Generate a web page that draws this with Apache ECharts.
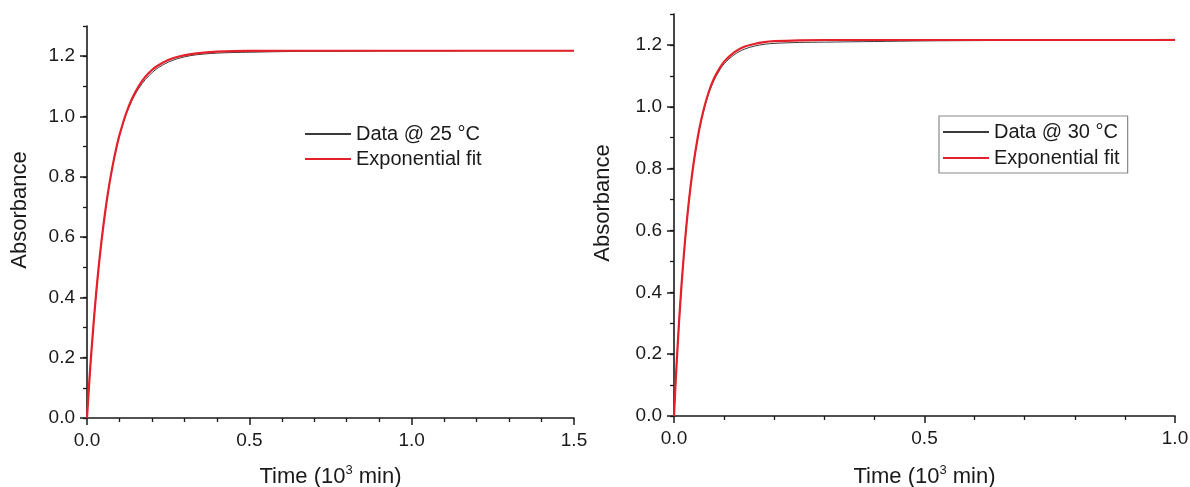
<!DOCTYPE html>
<html><head><meta charset="utf-8">
<script src="https://cdn.jsdelivr.net/npm/echarts@6/dist/echarts.min.js"></script>
<style>html,body{margin:0;padding:0;background:#fff}#c{width:1190px;height:487px}</style>
</head><body><div id="c"></div>
<script>
// ---- Data (time in 10^3 min, absorbance) ----
const time25 = [0,0.005,0.01,0.02,0.03,0.04,0.05,0.06,0.07,0.08,0.09,0.10,0.12,0.14,0.16,0.18,0.20,0.22,0.25,0.28,0.32,0.36,0.40,0.45,0.50,0.60,0.70,0.80,0.90,1.00,1.10,1.20,1.30,1.40,1.50];
const data25 = [0,0.086,0.167,0.310,0.435,0.542,0.634,0.714,0.783,0.842,0.893,0.936,1.005,1.056,1.094,1.123,1.145,1.162,1.180,1.192,1.202,1.207,1.210,1.212,1.213,1.215,1.216,1.216,1.217,1.217,1.217,1.218,1.218,1.218,1.218];
const fit25  = [0,0.086,0.167,0.310,0.435,0.542,0.634,0.714,0.783,0.842,0.894,0.938,1.009,1.062,1.102,1.132,1.154,1.170,1.187,1.198,1.207,1.212,1.215,1.217,1.2175,1.218,1.218,1.218,1.218,1.218,1.218,1.218,1.218,1.218,1.218];

const time30 = [0,0.0025,0.005,0.01,0.015,0.02,0.025,0.03,0.035,0.04,0.05,0.06,0.07,0.08,0.09,0.10,0.12,0.14,0.16,0.18,0.20,0.25,0.30,0.40,0.50,0.60,0.70,0.80,0.90,1.00];
const data30 = [0,0.084,0.162,0.302,0.423,0.528,0.620,0.699,0.767,0.826,0.922,0.992,1.046,1.086,1.115,1.139,1.168,1.186,1.196,1.202,1.205,1.208,1.209,1.211,1.213,1.214,1.215,1.216,1.217,1.218];
const fit30  = [0,0.084,0.162,0.302,0.423,0.528,0.620,0.699,0.767,0.827,0.924,0.996,1.051,1.092,1.122,1.146,1.176,1.194,1.203,1.209,1.212,1.215,1.216,1.216,1.216,1.216,1.216,1.216,1.216,1.216];

const seriesNames25 = ['Data @ 25 °C', 'Exponential fit'];
const seriesNames30 = ['Data @ 30 °C', 'Exponential fit'];
const xMax25 = 1.5, xMax30 = 1.0, yMax = 1.3;
const xTitle = 'Time (10{sup|3} min)';
const yTitle = 'Absorbance';

const FONT = "'Liberation Sans', Arial, sans-serif";
const INK = '#1a1a1a';
const RED = '#e4202b';
const GRAY = '#3a3a3a';

const chart = echarts.init(document.getElementById('c'), null, {renderer: 'canvas'});

function xAxisCfg(gi, max, gap) {
  return {
    type: 'value', gridIndex: gi, min: 0, max: max, interval: 0.5,
    name: xTitle, nameLocation: 'middle', nameGap: gap,
    nameTextStyle: {fontFamily: FONT, fontSize: 22, color: INK,
      rich: {sup: {fontFamily: FONT, fontSize: 13, color: INK, padding: [0, 0, 12, 0]}}},
    axisLine: {show: true, lineStyle: {color: INK, width: 1.6}},
    axisTick: {show: true, inside: false, length: 7, lineStyle: {color: INK, width: 1.5}},
    minorTick: {show: true, splitNumber: 5, length: 4, lineStyle: {color: INK, width: 1.3}},
    axisLabel: {fontFamily: FONT, fontSize: 19, color: INK, margin: 13,
      formatter: v => v.toFixed(1)},
    splitLine: {show: false}, minorSplitLine: {show: false}
  };
}
function yMainCfg(gi, gap) {
  return {
    type: 'value', gridIndex: gi, min: 0, max: yMax, interval: 0.2,
    name: yTitle, nameLocation: 'middle', nameGap: gap,
    nameTextStyle: {fontFamily: FONT, fontSize: 22, color: INK, padding: [0, 0, 0, 24]},
    axisLine: {show: true, lineStyle: {color: INK, width: 1.6}},
    axisTick: {show: true, inside: false, length: 7, lineStyle: {color: INK, width: 1.5}},
    axisLabel: {fontFamily: FONT, fontSize: 19, color: INK, margin: 12, showMaxLabel: false,
      formatter: v => v.toFixed(1)},
    splitLine: {show: false}
  };
}
function yMinorCfg(gi) {
  return {
    type: 'value', gridIndex: gi, min: 0, max: yMax, interval: 0.1, position: 'left',
    axisLine: {show: false},
    axisTick: {show: true, inside: false, length: 4, lineStyle: {color: INK, width: 1.3}},
    axisLabel: {show: false}, splitLine: {show: false}
  };
}
function pairs(t, v) { return t.map((x, i) => [x, v[i]]); }

const legendCommon = {
  orient: 'vertical', itemWidth: 46, itemHeight: 14,
  itemStyle: {opacity: 0, borderWidth: 0, color: 'rgba(0,0,0,0)'},
  textStyle: {fontFamily: FONT, fontSize: 20, color: INK, lineHeight: 20}
};

const option = {
  backgroundColor: '#fff',
  animation: false,
  grid: [
    {left: 87, right: 616, top: 26, bottom: 69, outerBoundsMode: 'none', containLabel: false},
    {left: 674, right: 15, top: 14, bottom: 71, outerBoundsMode: 'none', containLabel: false}
  ],
  xAxis: [xAxisCfg(0, xMax25, 46), xAxisCfg(1, xMax30, 48)],
  yAxis: [yMainCfg(0, 56), yMinorCfg(0), yMainCfg(1, 60), yMinorCfg(1)],
  legend: [
    Object.assign({}, legendCommon, {data: seriesNames25, left: 300, top: 121,
      itemGap: 5, padding: [3, 3, 3, 4]}),
    Object.assign({}, legendCommon, {data: seriesNames30, left: 939, top: 116,
      itemGap: 6, padding: [6, 8, 5, 3], borderColor: '#8a8a8a', borderWidth: 1.2})
  ],
  series: [
    {name: seriesNames25[0], type: 'line', xAxisIndex: 0, yAxisIndex: 0,
     data: pairs(time25, data25), symbol: 'none', smooth: 0.3,
     lineStyle: {color: GRAY, width: 1}, itemStyle: {color: GRAY}, z: 2},
    {name: seriesNames25[1], type: 'line', xAxisIndex: 0, yAxisIndex: 0,
     data: pairs(time25, fit25), symbol: 'none', smooth: 0.3,
     lineStyle: {color: RED, width: 2.2}, itemStyle: {color: RED}, z: 3},
    {name: seriesNames30[0], type: 'line', xAxisIndex: 1, yAxisIndex: 2,
     data: pairs(time30, data30), symbol: 'none', smooth: 0.3,
     lineStyle: {color: GRAY, width: 1}, itemStyle: {color: GRAY}, z: 2},
    {name: seriesNames30[1], type: 'line', xAxisIndex: 1, yAxisIndex: 2,
     data: pairs(time30, fit30), symbol: 'none', smooth: 0.3,
     lineStyle: {color: RED, width: 2.2}, itemStyle: {color: RED}, z: 3}
  ]
};
chart.setOption(option);
</script>
</body></html>
